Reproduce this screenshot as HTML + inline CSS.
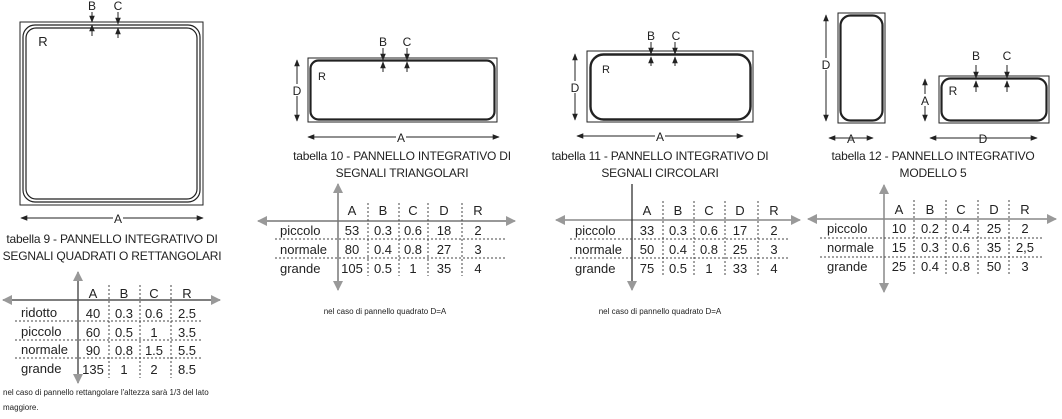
<!DOCTYPE html>
<html><head><meta charset="utf-8"><style>
html,body{margin:0;padding:0;background:#fff;}
svg{display:block;font-family:"Liberation Sans",sans-serif;}
text{fill:#222;}
</style></head><body>
<svg width="1062" height="419" viewBox="0 0 1062 419" xmlns="http://www.w3.org/2000/svg">
<defs>
<marker id="ah" viewBox="0 0 10 10" refX="9" refY="5" markerWidth="7" markerHeight="7" orient="auto-start-reverse" markerUnits="userSpaceOnUse"><path d="M0,1 L10,5 L0,9z" fill="#222"/></marker>
<marker id="gh" viewBox="0 0 10 10" refX="9" refY="5" markerWidth="10" markerHeight="10" orient="auto-start-reverse" markerUnits="userSpaceOnUse"><path d="M0,0 L10,5 L0,10z" fill="#999"/></marker>
</defs>
<g stroke="#222" fill="none">
<rect x="20" y="22" width="183" height="183" stroke-width="1"/>
<rect x="23" y="25" width="177" height="177" rx="12" stroke-width="1.2"/>
<rect x="26" y="28" width="171" height="171" rx="10" stroke-width="1.2"/>
<line x1="21" y1="218" x2="203" y2="218" marker-start="url(#ah)" marker-end="url(#ah)"/>
<line x1="92" y1="12" x2="92" y2="22" marker-end="url(#ah)"/><line x1="92" y1="36" x2="92" y2="25" marker-end="url(#ah)"/>
<line x1="118" y1="12" x2="118" y2="24" marker-end="url(#ah)"/><line x1="118" y1="38" x2="118" y2="28" marker-end="url(#ah)"/>
<rect x="308" y="58" width="189" height="64"/>
<rect x="310.5" y="60.5" width="184" height="59" rx="8" stroke-width="2.2"/>
<line x1="308" y1="137" x2="499" y2="137" marker-start="url(#ah)" marker-end="url(#ah)"/>
<line x1="297" y1="60" x2="297" y2="121" marker-start="url(#ah)" marker-end="url(#ah)"/>
<line x1="383" y1="48" x2="383" y2="60" marker-end="url(#ah)"/><line x1="383" y1="72" x2="383" y2="62" marker-end="url(#ah)"/>
<line x1="407" y1="48" x2="407" y2="60" marker-end="url(#ah)"/><line x1="407" y1="72" x2="407" y2="62" marker-end="url(#ah)"/>
<rect x="587" y="51" width="166" height="71"/>
<rect x="590.5" y="54.5" width="160" height="65" rx="13" stroke-width="2.4"/>
<line x1="577" y1="136" x2="743" y2="136" marker-start="url(#ah)" marker-end="url(#ah)"/>
<line x1="575" y1="54" x2="575" y2="120" marker-start="url(#ah)" marker-end="url(#ah)"/>
<line x1="651" y1="42" x2="651" y2="54" marker-end="url(#ah)"/><line x1="651" y1="66" x2="651" y2="57" marker-end="url(#ah)"/>
<line x1="675" y1="42" x2="675" y2="54" marker-end="url(#ah)"/><line x1="675" y1="66" x2="675" y2="57" marker-end="url(#ah)"/>
<rect x="838" y="13" width="47" height="110"/>
<rect x="840.5" y="15.5" width="42" height="105" rx="10" stroke-width="2.2"/>
<line x1="826" y1="15" x2="826" y2="121" marker-start="url(#ah)" marker-end="url(#ah)"/>
<line x1="829" y1="138" x2="873" y2="138" marker-start="url(#ah)" marker-end="url(#ah)"/>
<rect x="939" y="76" width="110" height="47"/>
<rect x="941.5" y="78.5" width="105" height="42" rx="9" stroke-width="2.2"/>
<line x1="925" y1="79" x2="925" y2="121" marker-start="url(#ah)" marker-end="url(#ah)"/>
<line x1="930" y1="138" x2="1037" y2="138" marker-start="url(#ah)" marker-end="url(#ah)"/>
<line x1="976" y1="65" x2="976" y2="78" marker-end="url(#ah)"/><line x1="976" y1="92" x2="976" y2="81" marker-end="url(#ah)"/>
<line x1="1007" y1="65" x2="1007" y2="78" marker-end="url(#ah)"/><line x1="1007" y1="92" x2="1007" y2="81" marker-end="url(#ah)"/>
</g>
<g font-size="12" text-anchor="middle">
<text x="92" y="10">B</text><text x="118" y="10">C</text>
<text x="43" y="46" font-size="13">R</text>
<rect x="113" y="212" width="10" height="12" fill="#fff"/><text x="118" y="223">A</text>
<text x="383" y="46">B</text><text x="407" y="46">C</text><text x="322" y="80" font-size="11">R</text>
<rect x="291" y="84" width="12" height="12" fill="#fff"/><text x="297" y="95">D</text>
<rect x="396" y="131" width="10" height="12" fill="#fff"/><text x="401" y="142">A</text>
<text x="651" y="40">B</text><text x="676" y="40">C</text><text x="606" y="73" font-size="11">R</text>
<rect x="569" y="81" width="12" height="12" fill="#fff"/><text x="575" y="92">D</text>
<rect x="655" y="130" width="10" height="12" fill="#fff"/><text x="660" y="141">A</text>
<rect x="820" y="58" width="12" height="12" fill="#fff"/><text x="826" y="69">D</text>
<text x="851" y="143">A</text>
<rect x="919" y="94" width="12" height="12" fill="#fff"/><text x="925" y="105">A</text>
<text x="983" y="143">D</text>
<text x="976" y="60">B</text><text x="1007" y="60">C</text><text x="953" y="95" font-size="12">R</text>
</g>
<g font-size="12" text-anchor="middle" letter-spacing="-0.2">
<text x="112" y="243">tabella 9 - PANNELLO INTEGRATIVO DI</text>
<text x="112" y="260">SEGNALI QUADRATI O RETTANGOLARI</text>
<text x="402" y="160">tabella 10 - PANNELLO INTEGRATIVO DI</text>
<text x="402" y="177">SEGNALI TRIANGOLARI</text>
<text x="660" y="160">tabella 11 - PANNELLO INTEGRATIVO DI</text>
<text x="660" y="177">SEGNALI CIRCOLARI</text>
<text x="933" y="160">tabella 12 - PANNELLO INTEGRATIVO</text>
<text x="933" y="177">MODELLO 5</text>
</g>
<g font-size="8" fill="#333">
<text x="3" y="395">nel caso di pannello rettangolare l'altezza sarà 1/3 del lato</text>
<text x="3" y="410">maggiore.</text>
<text x="385" y="314" text-anchor="middle">nel caso di pannello quadrato D=A</text>
<text x="660" y="314" text-anchor="middle">nel caso di pannello quadrato D=A</text>
</g>
<g stroke-width="1.5">
<line x1="3" y1="300" x2="220" y2="300" stroke="#555" marker-start="url(#gh)" marker-end="url(#gh)"/>
<line x1="78" y1="272" x2="78" y2="383" stroke="#555" marker-start="url(#gh)" marker-end="url(#gh)"/>
</g>
<g stroke="#444" stroke-dasharray="2,2" stroke-width="1">
<line x1="15" y1="321" x2="203" y2="321"/><line x1="15" y1="340" x2="203" y2="340"/><line x1="15" y1="358" x2="203" y2="358"/>
<line x1="109" y1="285" x2="109" y2="378"/><line x1="140" y1="285" x2="140" y2="378"/><line x1="171" y1="285" x2="171" y2="378"/>
</g>
<g font-size="13" text-anchor="middle">
<text x="93" y="298">A</text><text x="124" y="298">B</text><text x="154" y="298">C</text><text x="187" y="298">R</text>
<text x="93" y="318">40</text><text x="124" y="318">0.3</text><text x="154" y="318">0.6</text><text x="187" y="318">2.5</text>
<text x="93" y="337">60</text><text x="124" y="337">0.5</text><text x="154" y="337">1</text><text x="187" y="337">3.5</text>
<text x="93" y="355">90</text><text x="124" y="355">0.8</text><text x="154" y="355">1.5</text><text x="187" y="355">5.5</text>
<text x="93" y="374">135</text><text x="124" y="374">1</text><text x="154" y="374">2</text><text x="187" y="374">8.5</text>
<g text-anchor="start"><text x="21" y="317">ridotto</text><text x="21" y="336">piccolo</text><text x="21" y="354">normale</text><text x="21" y="373">grande</text></g>
</g>
<g stroke-width="1.5" stroke="#777">
<line x1="258" y1="221" x2="515" y2="221" marker-start="url(#gh)" marker-end="url(#gh)"/>
<line x1="338" y1="184" x2="338" y2="290" marker-start="url(#gh)" marker-end="url(#gh)"/>
</g>
<g stroke="#444" stroke-dasharray="2,2" stroke-width="1">
<line x1="275" y1="239" x2="505" y2="239"/><line x1="275" y1="258" x2="505" y2="258"/>
<line x1="368" y1="203" x2="368" y2="276"/><line x1="399" y1="203" x2="399" y2="276"/><line x1="428" y1="203" x2="428" y2="276"/><line x1="462" y1="203" x2="462" y2="276"/>
</g>
<g font-size="13" text-anchor="middle">
<text x="352" y="215">A</text><text x="383" y="215">B</text><text x="413" y="215">C</text><text x="444" y="215">D</text><text x="478" y="215">R</text>
<text x="352" y="235">53</text><text x="383" y="235">0.3</text><text x="413" y="235">0.6</text><text x="444" y="235">18</text><text x="478" y="235">2</text>
<text x="352" y="254">80</text><text x="383" y="254">0.4</text><text x="413" y="254">0.8</text><text x="444" y="254">27</text><text x="478" y="254">3</text>
<text x="352" y="273">105</text><text x="383" y="273">0.5</text><text x="413" y="273">1</text><text x="444" y="273">35</text><text x="478" y="273">4</text>
<g text-anchor="start"><text x="280" y="235">piccolo</text><text x="280" y="254">normale</text><text x="280" y="273">grande</text></g>
</g>
<line x1="556" y1="220" x2="800" y2="220" stroke="#888" stroke-width="1.5" marker-start="url(#gh)" marker-end="url(#gh)"/>
<line x1="632" y1="184" x2="632" y2="290" stroke="#333" stroke-width="1.3" marker-end="url(#gh)"/>
<g stroke="#444" stroke-dasharray="2,2" stroke-width="1">
<line x1="570" y1="239" x2="790" y2="239"/><line x1="570" y1="258" x2="790" y2="258"/>
<line x1="663" y1="201" x2="663" y2="276"/><line x1="694" y1="201" x2="694" y2="276"/><line x1="725" y1="201" x2="725" y2="276"/><line x1="758" y1="201" x2="758" y2="276"/>
</g>
<g font-size="13" text-anchor="middle">
<text x="647" y="215">A</text><text x="678" y="215">B</text><text x="709" y="215">C</text><text x="740" y="215">D</text><text x="774" y="215">R</text>
<text x="647" y="235">33</text><text x="678" y="235">0.3</text><text x="709" y="235">0.6</text><text x="740" y="235">17</text><text x="774" y="235">2</text>
<text x="647" y="254">50</text><text x="678" y="254">0.4</text><text x="709" y="254">0.8</text><text x="740" y="254">25</text><text x="774" y="254">3</text>
<text x="647" y="273">75</text><text x="678" y="273">0.5</text><text x="709" y="273">1</text><text x="740" y="273">33</text><text x="774" y="273">4</text>
<g text-anchor="start"><text x="575" y="235">piccolo</text><text x="575" y="254">normale</text><text x="575" y="273">grande</text></g>
</g>
<g stroke-width="1.5" stroke="#888">
<line x1="808" y1="219" x2="1056" y2="219" marker-start="url(#gh)" marker-end="url(#gh)"/>
<line x1="884" y1="185" x2="884" y2="292" marker-start="url(#gh)" marker-end="url(#gh)"/>
</g>
<g stroke="#444" stroke-dasharray="2,2" stroke-width="1">
<line x1="820" y1="238" x2="1042" y2="238"/><line x1="820" y1="257" x2="1042" y2="257"/>
<line x1="914" y1="200" x2="914" y2="276"/><line x1="946" y1="200" x2="946" y2="276"/><line x1="978" y1="200" x2="978" y2="276"/><line x1="1009" y1="200" x2="1009" y2="276"/>
</g>
<g font-size="13" text-anchor="middle">
<text x="899" y="214">A</text><text x="930" y="214">B</text><text x="961" y="214">C</text><text x="994" y="214">D</text><text x="1025" y="214">R</text>
<text x="899" y="233">10</text><text x="930" y="233">0.2</text><text x="961" y="233">0.4</text><text x="994" y="233">25</text><text x="1025" y="233">2</text>
<text x="899" y="252">15</text><text x="930" y="252">0.3</text><text x="961" y="252">0.6</text><text x="994" y="252">35</text><text x="1025" y="252">2,5</text>
<text x="899" y="271">25</text><text x="930" y="271">0.4</text><text x="961" y="271">0.8</text><text x="994" y="271">50</text><text x="1025" y="271">3</text>
<g text-anchor="start"><text x="827" y="233">piccolo</text><text x="827" y="252">normale</text><text x="827" y="271">grande</text></g>
</g>
</svg>
</body></html>
